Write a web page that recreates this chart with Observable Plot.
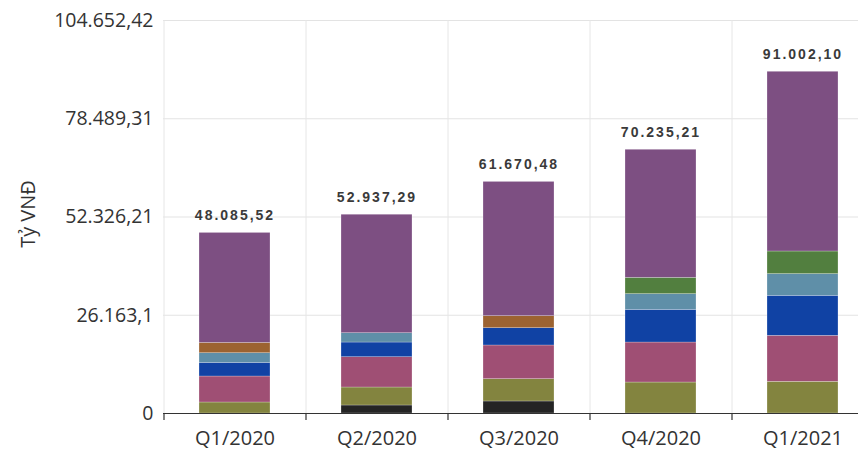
<!DOCTYPE html>
<html>
<head>
<meta charset="utf-8">
<script src="https://cdn.jsdelivr.net/npm/d3@7"></script>
<script src="https://cdn.jsdelivr.net/npm/@observablehq/plot@0.6"></script>
<style>
  html, body { margin: 0; padding: 0; background: #fff; }
  #chart { width: 858px; height: 455px; overflow: hidden; }
</style>
</head>
<body>
<div id="chart"></div>
<script>
// ---- data ----
const quarters = ["Q1/2020", "Q2/2020", "Q3/2020", "Q4/2020", "Q1/2021"];
const totals = [48085.52, 52937.29, 61670.48, 70235.21, 91002.10];
const totalLabels = ["48.085,52", "52.937,29", "61.670,48", "70.235,21", "91.002,10"];
const seriesNames = ["S1", "S2", "S3", "S4", "S5", "S6", "S7", "S8"];
const seriesColors = ["#242424", "#83843f", "#9f4f74", "#1042a4", "#5f8fa8", "#9c6331", "#527f3f", "#7d4f82"];
// values per series, one per quarter (bottom to top)
const s1 = [0, 2130, 3200, 0, 0];
const s2 = [2930, 4790, 5940, 8250, 8440];
const s3 = [6920, 8070, 8970, 10650, 12250];
const s4 = [3620, 3910, 4610, 8700, 10650];
const s5 = [2580, 2480, 0, 4180, 5780];
const s6 = [2740, 0, 3200, 0, 0];
const s7 = [0, 0, 0, 4340, 6020];
const s8 = [29295.52, 31557.29, 35750.48, 34115.21, 47862.10];
const yTicks = [0, 26163.1, 52326.21, 78489.31, 104652.42];
const yTickLabels = ["0", "26.163,1", "52.326,21", "78.489,31", "104.652,42"];
const yLabel = "Tỷ VNĐ";

const seriesValues = [s1, s2, s3, s4, s5, s6, s7, s8];
const rows = [];
seriesValues.forEach((vals, si) => {
  vals.forEach((v, qi) => {
    if (v > 0) rows.push({quarter: quarters[qi], series: seriesNames[si], value: v});
  });
});
const totalRows = quarters.map((q, i) => ({quarter: q, total: totals[i], label: totalLabels[i]}));

const W = 858, H = 455;
const mL = 163, mT = 20, mB = 42;
const xRange = [mL, mL + 142 * quarters.length];
const step = (xRange[1] - xRange[0]) / quarters.length;

const chart = Plot.plot({
  width: W,
  height: H,
  marginLeft: mL,
  marginRight: 0,
  marginTop: mT,
  marginBottom: mB,
  style: {fontFamily: "'Open Sans', sans-serif", color: "#333", background: "#fff"},
  x: {domain: quarters, range: xRange, paddingInner: 0.5, paddingOuter: 0.25, align: 0.5, label: null},
  y: {domain: [0, yTicks[yTicks.length - 1]], label: null},
  color: {domain: seriesNames, range: seriesColors},
  marks: [
    Plot.gridY(yTicks, {stroke: "#e3e3e3", strokeOpacity: 1}),
    Plot.ruleX(quarters, {x: d => d, dx: -step / 2, stroke: "#e6e6e6", strokeOpacity: 1}),
    Plot.barY(rows, Plot.stackY({
      x: "quarter", y: "value", fill: "series", order: seriesNames,
      stroke: "#fff", strokeWidth: 0.4, strokeOpacity: 0.6
    })),
    Plot.ruleY([0], {stroke: "#333", strokeWidth: 1.2}),
    Plot.axisX({tickSize: 7, tickFormat: () => "", dx: -step / 2, stroke: "#333", strokeWidth: 1.2, label: null}),
    Plot.axisX({tickSize: 0, tickPadding: 17, fontSize: 20, fill: "#333", label: null}),
    Plot.axisY(yTicks, {
      tickSize: 0, tickPadding: 10, fontSize: 19.5, fill: "#333",
      tickFormat: d => yTickLabels[yTicks.indexOf(d)], label: null
    }),
    Plot.text([yLabel], {
      frameAnchor: "left", textAnchor: "middle", dx: -135, dy: -3, rotate: -90, fontSize: 20, fill: "#333",
      fontFamily: "'Open Sans', sans-serif"
    }),
    Plot.text(totalRows, {
      x: "quarter", y: "total", text: "label", dy: -17, lineAnchor: "middle",
      fontSize: 14, fontWeight: "bold", fill: "#3a3a3a",
      fontFamily: "'Liberation Sans', Arial, sans-serif", ariaDescription: "totals"
    })
  ]
});

chart.querySelectorAll('g[aria-description="totals"] text').forEach(t => t.setAttribute("letter-spacing", "2"));
document.getElementById("chart").appendChild(chart);
</script>
</body>
</html>
